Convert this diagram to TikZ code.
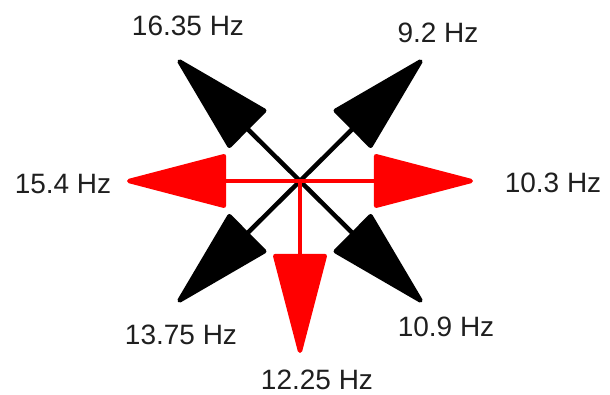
\documentclass[tikz,border=0pt]{standalone}
\usepackage{fontspec}
\setmainfont{Liberation Sans}
\usetikzlibrary{arrows.meta}
\begin{document}
\begin{tikzpicture}[x=1pt,y=1pt,
  vec/.style={line width=4.5pt,-{Triangle[length=106pt,width=54pt,round]}},
  blackvec/.style={vec,draw=black},
  redvec/.style={vec,draw=red,fill=red},
  lbl/.style={anchor=base,inner sep=0pt,font=\fontsize{28}{30}\selectfont,text=black!88}]
\useasboundingbox (0,0) rectangle (610,395);
\coordinate (c) at (300,214);
\coordinate (ul) at (178,335);
\coordinate (ur) at (422,335);
\coordinate (dl) at (178,93);
\coordinate (dr) at (422,93);
\coordinate (l) at (127,214);
\coordinate (r) at (473,214);
\coordinate (d) at (300,42);
\draw[blackvec] (c) -- (ul);
\draw[blackvec] (c) -- (ur);
\draw[blackvec] (c) -- (dl);
\draw[blackvec] (c) -- (dr);
\draw[redvec] (c) -- (l);
\draw[redvec] (c) -- (r);
\draw[redvec] (c) -- (d);
\node[lbl] (tul) at (188,359) {16.35 Hz};
\node[lbl] (tur) at (438,352) {9.2 Hz};
\node[lbl] (tl) at (63,201) {15.4 Hz};
\node[lbl] (tr) at (553,202) {10.3 Hz};
\node[lbl] (tdl) at (181,50) {13.75 Hz};
\node[lbl] (tdr) at (446,58) {10.9 Hz};
\node[lbl] (td) at (317,5) {12.25 Hz};
\end{tikzpicture}
\end{document}
